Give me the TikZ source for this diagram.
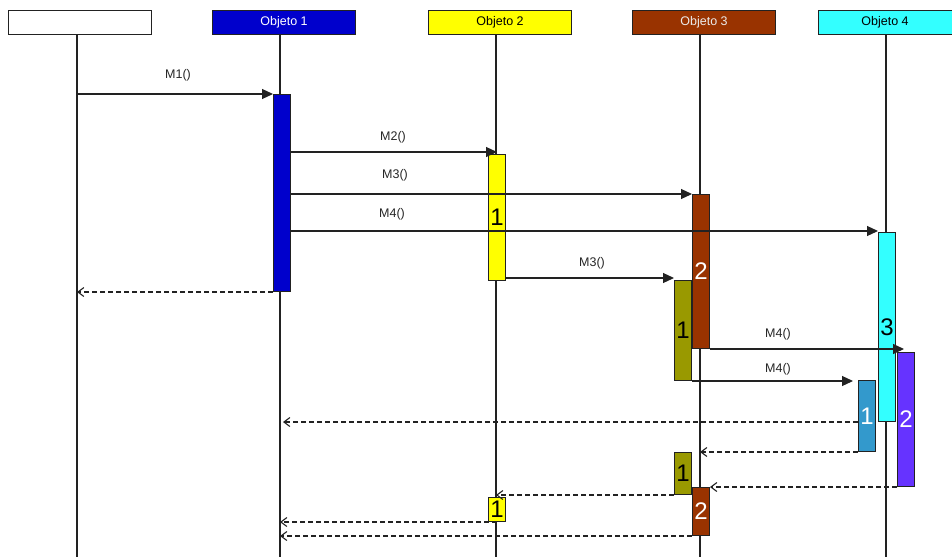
\documentclass[tikz,border=0pt]{standalone}
\usepackage{fontspec}
\setmainfont{Liberation Sans}
\usetikzlibrary{arrows.meta}
\definecolor{cBlue}{HTML}{0000CC}
\definecolor{cYellow}{HTML}{FFFF00}
\definecolor{cBrown}{HTML}{993300}
\definecolor{cCyan}{HTML}{33FFFF}
\definecolor{cOlive}{HTML}{999900}
\definecolor{cSky}{HTML}{3399CC}
\definecolor{cPurple}{HTML}{6633FF}
\definecolor{cLine}{HTML}{222222}
\begin{document}
\begin{tikzpicture}[x=1pt,y=-1pt,
 hdr/.style={draw=cLine, line width=1.1pt, minimum width=143pt, minimum height=24pt, inner sep=0pt, anchor=north west, font=\fontsize{12.5}{14}\selectfont},
 act/.style={draw=cLine, line width=1pt, minimum width=17pt, inner sep=0pt, anchor=north west, font=\fontsize{24}{26}\selectfont},
 life/.style={cLine, line width=1.1pt},
 call/.style={cLine, line width=1.1pt, -{Triangle[length=11pt,width=10pt]}},
 ret/.style={cLine, line width=1.1pt, dash pattern=on 5pt off 3pt, -{Straight Barb[length=6pt,width=9pt]}},
 lbl/.style={font=\fontsize{12.5}{14}\selectfont, text=black!85, inner sep=0pt}]
\useasboundingbox (0,0) rectangle (952,557);
\clip (0,0) rectangle (952,557);
% lifelines
\coordinate (t0) at (77,34);  \coordinate (b0) at (77,557);
\coordinate (t1) at (280,34); \coordinate (b1) at (280,557);
\coordinate (t2) at (496,34); \coordinate (b2) at (496,557);
\coordinate (t3) at (700,34); \coordinate (b3) at (700,557);
\coordinate (t4) at (886,34); \coordinate (b4) at (886,557);
\draw[life] (t0) -- (b0);
\draw[life] (t1) -- (b1);
\draw[life] (t2) -- (b2);
\draw[life] (t3) -- (b3);
\draw[life] (t4) -- (b4);
% headers
\node[hdr, fill=white] (h0) at (8,10) {};
\node[hdr, fill=cBlue, text=white] (h1) at (212,10) {Objeto 1};
\node[hdr, fill=cYellow] (h2) at (428,10) {Objeto 2};
\node[hdr, fill=cBrown, text=white!92!black] (h3) at (632,10) {Objeto 3};
\node[hdr, fill=cCyan] (h4) at (818,10) {\hspace*{-10pt}Objeto 4};
% activations
\node[act, fill=cBlue, minimum height=197pt] (A1) at (273,94) {};
\node[act, fill=cYellow, minimum height=126pt] (Y1) at (488,154) {1};
\node[act, fill=cBrown, minimum height=154pt, text=white] (B1) at (692,194) {2};
\node[act, fill=cCyan, minimum height=189pt] (C1) at (878,232) {3};
\node[act, fill=cOlive, minimum height=100pt] (O1) at (674,280) {1};
\node[act, fill=cPurple, minimum height=134pt, text=white] (P1) at (897,352) {2};
\node[act, fill=cSky, minimum height=71pt, text=white] (S1) at (858,380) {1};
\node[act, fill=cOlive, minimum height=42pt] (O2) at (674,452) {1};
\node[act, fill=cBrown, minimum height=48pt, text=white] (B2) at (692,487) {2};
\node[act, fill=cYellow, minimum height=24pt] (Y2) at (488,497) {1};
% calls
\draw[call] (t0 |- A1.north west) -- (A1.north west);
\draw[call] (A1.east |- 0,152) -- ([xshift=9pt]Y1.west |- 0,152);
\draw[call] (A1.east |- 0,194) -- (B1.west |- 0,194);
\draw[call] (A1.east |- 0,231) -- (C1.west |- 0,231);
\draw[call] (Y1.east |- 0,278) -- (O1.west |- 0,278);
\draw[call] (B1.south east) -- ([xshift=7pt]P1.west |- B1.south east);
\draw[call] (O1.south east) -- ([xshift=-5pt]S1.west |- O1.south east);
% returns
\draw[ret] (A1.south west) -- (t0 |- A1.south west);
\draw[ret] (S1.west |- 0,422) -- ([xshift=3pt]t1 |- 0,422);
\draw[ret] (S1.south west) -- (t3 |- S1.south west);
\draw[ret] (P1.south west) -- (B2.north east);
\draw[ret] (O2.south west) -- (t2 |- O2.south west);
\draw[ret] (Y2.south) -- (t1 |- Y2.south);
\draw[ret] (B2.south west) -- (t1 |- B2.south west);
% labels
\node[lbl] (m1) at (178,75) {M1()};
\node[lbl] (m2) at (393,137) {M2()};
\node[lbl] (m3) at (395,175) {M3()};
\node[lbl] (m4) at (392,214) {M4()};
\node[lbl] (m5) at (592,263) {M3()};
\node[lbl] (m6) at (778,334) {M4()};
\node[lbl] (m7) at (778,369) {M4()};
\end{tikzpicture}
\end{document}
